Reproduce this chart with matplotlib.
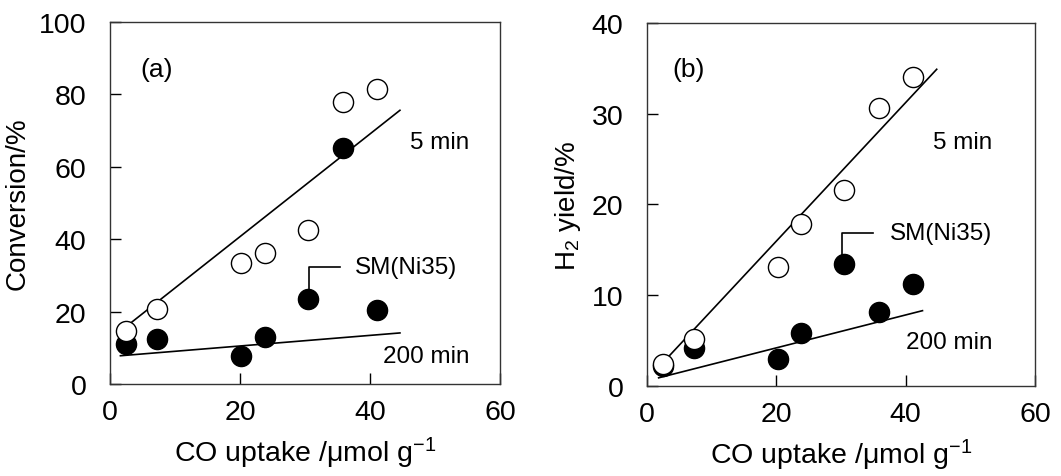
import matplotlib
matplotlib.use("Agg")
import matplotlib.pyplot as plt

plt.rcParams["font.family"] = ["Liberation Sans", "DejaVu Sans"]
plt.rcParams["mathtext.fontset"] = "custom"
plt.rcParams["mathtext.rm"] = "Liberation Sans"
plt.rcParams["mathtext.it"] = "Liberation Sans:italic"

# CO uptake (umol/g)
co_uptake = [2.4, 7.3, 20.2, 23.8, 30.5, 35.9, 41.1]

# (a) conversion %
conv_5min = [14.7, 20.7, 33.3, 36.2, 42.6, 77.9, 81.4]
conv_200min = [11.0, 12.4, 7.8, 13.1, 23.6, 65.3, 20.5]
# fitted lines (end points)
fit_a5_x = [2.3, 44.6]
fit_a5_y = [15.6, 75.6]
fit_a200_x = [1.6, 44.6]
fit_a200_y = [7.8, 14.1]

# (b) H2 yield %
h2_5min = [2.4, 5.2, 13.1, 17.8, 21.6, 30.6, 34.0]
h2_200min = [2.2, 4.2, 3.0, 5.8, 13.4, 8.1, 11.2]
fit_b5_x = [2.5, 44.8]
fit_b5_y = [2.6, 34.9]
fit_b200_x = [1.8, 42.6]
fit_b200_y = [0.9, 8.3]

fig = plt.figure(figsize=(10.61, 4.77), dpi=100)
ax1 = fig.add_axes([0.1037, 0.1929, 0.3676, 0.759])
ax2 = fig.add_axes([0.6098, 0.1887, 0.3657, 0.761])


def style(ax, ymax, ystep):
    ax.set_xlim(0, 60)
    ax.set_ylim(0, ymax)
    ax.set_xticks([0, 20, 40, 60])
    ax.set_yticks(range(0, ymax + 1, ystep))
    ax.tick_params(direction="in", length=8, width=1, labelsize=20.5)
    ax.tick_params(axis="y", pad=17)
    ax.tick_params(axis="x", pad=11)
    for s in ax.spines.values():
        s.set_linewidth(1.0)
        s.set_color("#333333")
    ax.set_xlabel("CO uptake /\u03bcmol g$^{-1}$", fontsize=20.5, labelpad=7)


mk = dict(marker="o", markersize=14.5, markeredgecolor="black", markeredgewidth=1.0,
          linestyle="none")

# (a)
ax1.plot(fit_a5_x, fit_a5_y, color="black", lw=1.2)
ax1.plot(fit_a200_x, fit_a200_y, color="black", lw=1.2)
ax1.plot(co_uptake, conv_200min, color="black", **mk)
ax1.plot(co_uptake, conv_5min, markerfacecolor="white", **mk)
ax1.plot([30.6, 30.6, 35.4], [26.2, 32.4, 32.4], color="black", lw=1.2)
ax1.text(37.7, 32.4, "SM(Ni35)", fontsize=17.5, va="center")
ax1.text(46.2, 66.9, "5 min", fontsize=17.5, va="center")
ax1.text(42.0, 7.8, "200 min", fontsize=17.5, va="center")
ax1.text(4.6, 87.0, "(a)", fontsize=19, va="center")
style(ax1, 100, 20)
ax1.set_ylabel("Conversion/%", fontsize=20, labelpad=6)

# (b)
ax2.plot(fit_b5_x, fit_b5_y, color="black", lw=1.2)
ax2.plot(fit_b200_x, fit_b200_y, color="black", lw=1.2)
ax2.plot(co_uptake, h2_200min, color="black", **mk)
ax2.plot(co_uptake, h2_5min, markerfacecolor="white", **mk)
ax2.plot([30.1, 30.1, 35.0], [14.2, 16.9, 16.9], color="black", lw=1.2)
ax2.text(37.6, 16.9, "SM(Ni35)", fontsize=17.5, va="center")
ax2.text(44.3, 26.9, "5 min", fontsize=17.5, va="center")
ax2.text(40.0, 4.8, "200 min", fontsize=17.5, va="center")
ax2.text(3.9, 34.9, "(b)", fontsize=19, va="center")
style(ax2, 40, 10)
ax2.set_ylabel("H$_2$ yield/%", fontsize=20, labelpad=6)

fig.savefig("out.png", dpi=100)
